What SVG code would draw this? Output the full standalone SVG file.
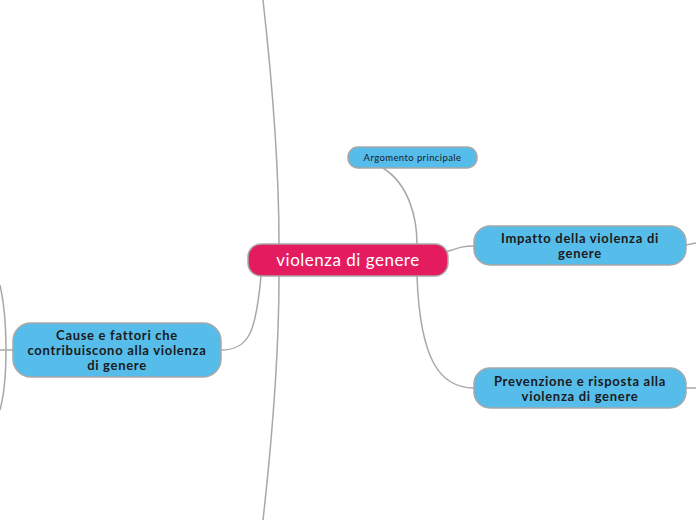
<svg xmlns="http://www.w3.org/2000/svg" width="696" height="520" viewBox="0 0 696 520">
<style>
.c{fill:none;stroke:#a8a8a8;stroke-width:1.5}
.sub{fill:#56bdeb;stroke:#a8a8a8;stroke-width:1.5}
.t{font-family:Lato,"Liberation Sans",sans-serif;font-weight:bold;font-size:13px;letter-spacing:0.7px;fill:#1a1a1a;text-anchor:middle}
</style>
<rect width="696" height="520" fill="#fff"/>
<g id="connectors">
<path class="c" d="M263,0 C272,80 279,170 279,244"/>
<path class="c" d="M279,276 C279,350 272,440 263,520"/>
<path class="c" d="M261,276 C256,330 250,350 221,350"/>
<path class="c" d="M383,168 C410,185 417,220 417,244"/>
<path class="c" d="M417,276 C420,360 440,388 474,388"/>
<path class="c" d="M446,252 C458,248 462,246 474,246"/>
<path class="c" d="M686,245 L696,243"/>
<path class="c" d="M686,388 L696,388"/>
<path class="c" d="M0,350 L13,350"/>
<path class="c" d="M0,285 C8,320 8,380 0,410"/>
</g>
<g id="center">
<rect x="248" y="244" width="200" height="32" rx="13" fill="#e41b5f" stroke="#a8a8a8" stroke-width="1.5"/>
<text x="348" y="266" font-family="Lato,'Liberation Sans',sans-serif" font-size="17" letter-spacing="0.5" fill="#fff" text-anchor="middle">violenza di genere</text>
</g>
<g id="argomento">
<rect class="sub" x="348" y="147" width="129" height="21" rx="10"/>
<text x="412.5" y="161" font-family="Lato,'Liberation Sans',sans-serif" font-size="9.5" letter-spacing="0.4" fill="#1a1a1a" text-anchor="middle">Argomento principale</text>
</g>
<g id="impatto">
<rect class="sub" x="474" y="226" width="212" height="39" rx="16"/>
<text class="t" x="580" y="243">Impatto della violenza di</text>
<text class="t" x="580" y="258">genere</text>
</g>
<g id="prevenzione">
<rect class="sub" x="474" y="368" width="212" height="40" rx="16"/>
<text class="t" x="580" y="386">Prevenzione e risposta alla</text>
<text class="t" x="580" y="401">violenza di genere</text>
</g>
<g id="cause">
<rect class="sub" x="13" y="323" width="208" height="54" rx="18"/>
<text class="t" x="117" y="340">Cause e fattori che</text>
<text class="t" x="117" y="355">contribuiscono alla violenza</text>
<text class="t" x="117" y="370">di genere</text>
</g>
</svg>
